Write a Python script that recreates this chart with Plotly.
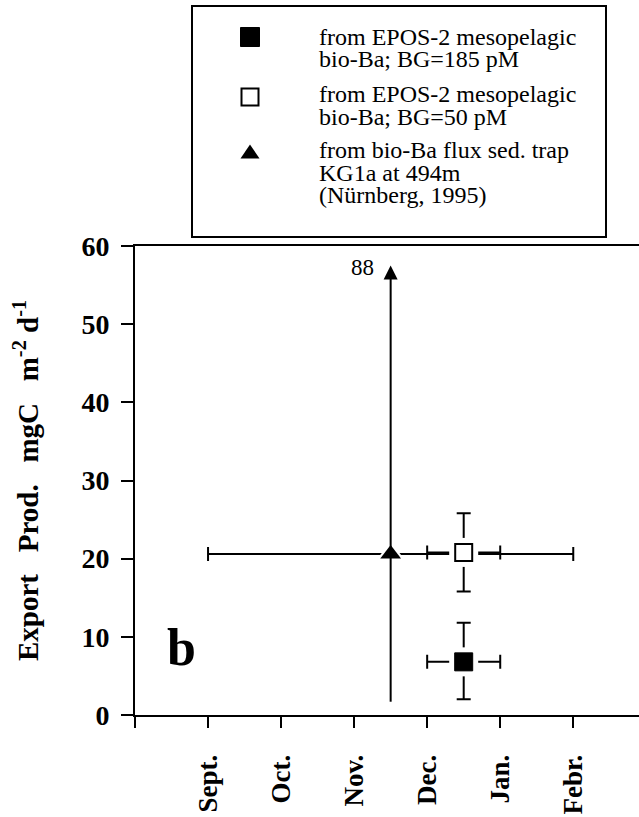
import plotly.graph_objects as go

# x axis in months counted from 1 August (1 = Sept., ..., 6 = Febr.)
month_ticks = [0, 1, 2, 3, 4, 5, 6]
month_labels = ["", "Sept.", "Oct.", "Nov.", "Dec.", "Jan.", "Febr."]
y_ticks = [0, 10, 20, 30, 40, 50, 60]

# EPOS-2 mesopelagic bio-Ba, background 185 pM
bg185_x = [4.5]
bg185_y = [6.8]
bg185_xerr = [0.5]
bg185_yerr_plus = [5.0]
bg185_yerr_minus = [4.8]

# EPOS-2 mesopelagic bio-Ba, background 50 pM
bg50_x = [4.5]
bg50_y = [20.8]
bg50_xerr = [0.5]
bg50_yerr = [5.0]

# bio-Ba flux, sediment trap KG1a at 494 m
trap_x = [3.5]
trap_y = [20.6]
trap_xerr = [2.5]
trap_low = [1.7]
trap_high = [88]
trap_arrow_tip = 57.5   # off-scale upper value is drawn as an arrow to here

legend_lines = [
    ["from EPOS-2 mesopelagic", "bio-Ba; BG=185 pM"],
    ["from EPOS-2 mesopelagic", "bio-Ba; BG=50 pM"],
    ["from bio-Ba flux sed. trap", "KG1a at 494m", "(Nürnberg, 1995)"],
]

SERIF = "Liberation Serif, Times New Roman, serif"
W, H = 639, 817
PL, PR, PT, PB = 135, 639, 246, 715


def px(xp):
    return (xp - PL) / (PR - PL)


def py(yp):
    return (PB - yp) / (PB - PT)


def err(arr, minus=None, width=7):
    d = dict(type="data", array=arr, color="black", thickness=2, width=width)
    if minus is not None:
        d.update(symmetric=False, arrayminus=minus)
    return d


fig = go.Figure()

# sediment trap: horizontal range with a white halo around the marker
fig.add_trace(go.Scatter(
    x=trap_x, y=trap_y, mode="markers", hoverinfo="skip", showlegend=False,
    error_x=err(trap_xerr),
    marker=dict(symbol="triangle-up", size=25, color="white", line=dict(width=0)),
))
# lower part of the vertical range (no cap)
fig.add_trace(go.Scatter(
    x=trap_x, y=trap_y, mode="markers", hoverinfo="skip", showlegend=False,
    error_y=err([0], minus=[trap_y[0] - trap_low[0]], width=0),
    marker=dict(size=1, opacity=0),
))
fig.add_trace(go.Scatter(
    x=trap_x, y=trap_y, mode="markers", showlegend=False,
    marker=dict(symbol="triangle-up", size=18, color="black", line=dict(width=0)),
))

# BG = 50 pM: error bars with halo, then open square
fig.add_trace(go.Scatter(
    x=bg50_x, y=bg50_y, mode="markers", hoverinfo="skip", showlegend=False,
    error_x=err(bg50_xerr), error_y=err(bg50_yerr),
    marker=dict(symbol="square", size=29, color="white", line=dict(width=0)),
))
fig.add_trace(go.Scatter(
    x=bg50_x, y=bg50_y, mode="markers", showlegend=False,
    marker=dict(symbol="square", size=17, color="white", line=dict(color="black", width=2)),
))

# BG = 185 pM: error bars with halo, then filled square
fig.add_trace(go.Scatter(
    x=bg185_x, y=bg185_y, mode="markers", hoverinfo="skip", showlegend=False,
    error_x=err(bg185_xerr),
    error_y=err(bg185_yerr_plus, minus=bg185_yerr_minus),
    marker=dict(symbol="square", size=29, color="white", line=dict(width=0)),
))
fig.add_trace(go.Scatter(
    x=bg185_x, y=bg185_y, mode="markers", showlegend=False,
    marker=dict(symbol="square", size=18, color="black", line=dict(color="black", width=1)),
))

annotations = [
    # upper part of the trap range, off scale
    dict(x=trap_x[0], y=trap_arrow_tip, ax=trap_x[0], ay=trap_y[0],
         xref="x", yref="y", axref="x", ayref="y", text="",
         showarrow=True, arrowhead=2, arrowsize=1.4, arrowwidth=2, arrowcolor="black"),
    dict(x=trap_x[0], y=trap_arrow_tip - 0.3, xref="x", yref="y", text=str(trap_high[0]),
         showarrow=False, xanchor="right", yanchor="middle", xshift=-15,
         font=dict(family=SERIF, size=23, color="black")),
    # panel letter
    dict(x=0.63, y=8.7, xref="x", yref="y", text="<b>b</b>", showarrow=False,
         xanchor="center", yanchor="middle",
         font=dict(family=SERIF, size=52, color="black")),
]

# legend text, one line at a time
line_centers = [[37, 59.5], [94, 116.5], [150, 172.5, 195]]
for lines, centers in zip(legend_lines, line_centers):
    for txt, yc in zip(lines, centers):
        annotations.append(dict(
            x=px(317), y=py(yc), xref="paper", yref="paper", text=txt,
            showarrow=False, xanchor="left", yanchor="middle",
            font=dict(family=SERIF, size=24, color="black"),
        ))

shapes = [
    # legend frame
    dict(type="rect", xref="paper", yref="paper",
         x0=px(192), x1=px(606), y0=py(237), y1=py(6),
         line=dict(color="black", width=2), fillcolor="white", layer="below"),
    # legend keys
    dict(type="rect", xref="paper", yref="paper",
         x0=px(240.5), x1=px(259.5), y0=py(46.5), y1=py(27.5),
         line=dict(color="black", width=1), fillcolor="black"),
    dict(type="rect", xref="paper", yref="paper",
         x0=px(241.5), x1=px(258.5), y0=py(105.5), y1=py(88.5),
         line=dict(color="black", width=2), fillcolor="white"),
    dict(type="path", xref="paper", yref="paper",
         path=f"M {px(240.5)},{py(158.5)} L {px(259.5)},{py(158.5)} L {px(250)},{py(144.5)} Z",
         line=dict(color="black", width=0), fillcolor="black"),
]

fig.update_layout(
    width=W, height=H,
    margin=dict(l=PL, r=W - PR, t=PT, b=H - PB, pad=0),
    paper_bgcolor="white", plot_bgcolor="white",
    font=dict(family=SERIF, color="black"),
    showlegend=False,
    annotations=annotations,
    shapes=shapes,
    xaxis=dict(
        range=[0, 6.9], tickmode="array", tickvals=month_ticks,
        ticktext=[f"<b>{t}</b>" for t in month_labels],
        tickangle=-90, ticks="outside", ticklen=11, tickwidth=2, tickcolor="black",
        ticklabelstandoff=16,
        showline=True, linewidth=2, linecolor="black", mirror=True,
        showgrid=False, zeroline=False,
        tickfont=dict(family=SERIF, size=27, color="black"),
    ),
    yaxis=dict(
        range=[0, 60], tickmode="array", tickvals=y_ticks,
        ticktext=[f"<b>{v}</b>" for v in y_ticks],
        ticks="outside", ticklen=12, tickwidth=2, tickcolor="black",
        ticklabelstandoff=6,
        showline=True, linewidth=2, linecolor="black", mirror=False,
        showgrid=False, zeroline=False,
        tickfont=dict(family=SERIF, size=28, color="black"),
        title=dict(
            text="<b>Export\u00a0\u00a0 Prod.\u00a0\u00a0 mgC\u00a0\u00a0 m<sup>-2</sup>\u00a0d<sup>-1</sup></b>",
            font=dict(family=SERIF, size=29, color="black"),
            standoff=34,
        ),
    ),
)

fig.write_html("out.html")
